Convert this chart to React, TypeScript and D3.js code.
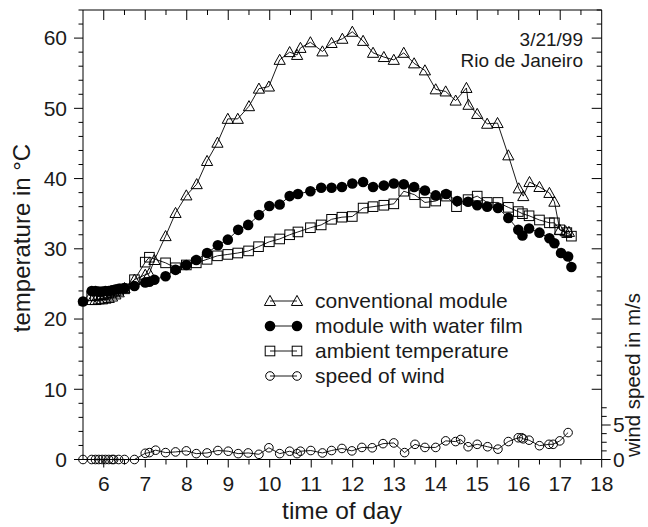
import React from "react";
import * as d3 from "d3";

// conventional module (triangles)
const convTime = [5.71, 5.8, 5.88, 5.96, 6.04, 6.12, 6.2, 6.28, 6.36, 6.5, 6.74, 7.0, 7.1, 7.22, 7.49, 7.73, 7.99, 8.24, 8.49, 8.74, 8.99, 9.23, 9.5, 9.74, 9.98, 10.24, 10.48, 10.66, 10.74, 10.98, 11.27, 11.49, 11.75, 11.99, 12.25, 12.49, 12.75, 12.99, 13.23, 13.48, 13.74, 14.0, 14.24, 14.48, 14.74, 14.79, 15.0, 15.24, 15.49, 15.75, 16.0, 16.11, 16.26, 16.5, 16.74, 16.86, 16.99, 17.13, 17.21];
const convTemp = [22.7, 22.7, 22.8, 22.8, 22.9, 23.0, 23.2, 23.5, 23.8, 24.4, 25.6, 26.3, 26.5, 28.4, 31.8, 35.1, 37.6, 39.2, 42.5, 45.1, 48.5, 48.5, 50.3, 52.8, 53.1, 56.9, 58.0, 57.6, 58.6, 59.4, 58.1, 59.3, 59.9, 60.9, 59.6, 57.9, 57.3, 56.9, 57.9, 56.4, 55.4, 52.7, 52.4, 51.1, 52.9, 50.5, 49.2, 47.8, 47.9, 43.3, 38.6, 37.5, 39.5, 38.8, 37.95, 36.7, 32.7, 32.5, 32.4];

// module with water film (filled circles)
const waterTime = [5.5, 5.71, 5.8, 5.88, 5.96, 6.04, 6.12, 6.2, 6.28, 6.36, 6.5, 6.74, 7.0, 7.1, 7.22, 7.49, 7.73, 7.99, 8.23, 8.49, 8.75, 8.99, 9.24, 9.48, 9.74, 9.99, 10.24, 10.48, 10.68, 10.98, 11.24, 11.49, 11.74, 11.99, 12.25, 12.49, 12.75, 12.99, 13.23, 13.48, 13.74, 14.0, 14.25, 14.52, 14.78, 15.0, 15.24, 15.5, 15.75, 15.99, 16.09, 16.25, 16.5, 16.74, 16.86, 17.02, 17.19, 17.27];
const waterTemp = [22.5, 24.0, 24.0, 23.9, 23.9, 24.0, 24.0, 24.1, 24.2, 24.3, 24.4, 24.7, 25.2, 25.3, 25.6, 26.1, 27.0, 27.7, 28.4, 29.4, 30.5, 31.3, 32.7, 33.4, 34.8, 36.1, 36.3, 37.5, 37.8, 38.2, 38.7, 38.7, 38.8, 39.3, 39.5, 38.8, 39.0, 39.3, 39.2, 38.8, 38.3, 37.6, 37.8, 36.8, 36.7, 36.2, 36.0, 35.8, 34.4, 32.7, 31.9, 32.9, 32.3, 31.5, 30.8, 29.4, 28.9, 27.4];

// ambient temperature (open squares)
const ambTime = [5.71, 5.8, 5.88, 5.96, 6.04, 6.12, 6.2, 6.28, 6.36, 6.5, 6.74, 7.0, 7.1, 7.49, 7.73, 7.99, 8.23, 8.49, 8.74, 8.99, 9.23, 9.49, 9.73, 9.99, 10.24, 10.48, 10.68, 10.98, 11.24, 11.49, 11.74, 11.99, 12.25, 12.49, 12.75, 12.99, 13.23, 13.49, 13.74, 14.0, 14.26, 14.5, 14.78, 15.0, 15.24, 15.5, 15.75, 15.99, 16.09, 16.25, 16.5, 16.74, 16.86, 16.99, 17.16, 17.27];
const ambTemp = [23.3, 23.3, 23.4, 23.5, 23.5, 23.7, 23.8, 24.0, 24.1, 24.3, 25.6, 28.1, 28.8, 28.0, 27.3, 27.7, 28.0, 28.5, 29.0, 29.2, 29.4, 29.7, 30.3, 31.0, 31.4, 32.0, 32.4, 33.0, 33.4, 34.2, 34.5, 34.6, 35.8, 36.0, 36.2, 36.4, 38.2, 37.7, 36.6, 36.8, 37.5, 36.0, 37.0, 37.5, 36.6, 36.6, 35.9, 35.3, 35.0, 34.7, 34.1, 33.7, 33.7, 32.7, 32.3, 31.8];

// speed of wind (open circles, right axis, m/s)
const windTime = [5.5, 5.71, 5.8, 5.88, 5.96, 6.04, 6.12, 6.2, 6.24, 6.36, 6.5, 6.74, 7.0, 7.1, 7.25, 7.49, 7.73, 7.99, 8.23, 8.49, 8.75, 9.0, 9.24, 9.48, 9.74, 9.98, 10.24, 10.48, 10.66, 10.74, 10.99, 11.27, 11.49, 11.74, 11.98, 12.22, 12.47, 12.73, 12.99, 13.25, 13.5, 13.74, 14.0, 14.24, 14.48, 14.6, 14.78, 15.0, 15.25, 15.5, 15.75, 15.99, 16.07, 16.11, 16.25, 16.5, 16.73, 16.83, 16.99, 17.19];
const windSpeed = [0, 0, 0, 0, 0, 0, 0, 0, 0, 0, 0, 0, 0.9, 1.0, 1.35, 1.0, 1.1, 1.25, 0.85, 0.95, 1.3, 1.2, 0.85, 0.95, 0.75, 1.7, 0.85, 1.2, 0.85, 1.2, 1.3, 0.95, 1.3, 1.6, 1.25, 1.75, 1.7, 2.3, 2.4, 1.0, 2.2, 1.75, 1.75, 2.7, 2.6, 2.9, 1.85, 2.2, 1.85, 1.5, 2.6, 3.15, 3.15, 3.0, 2.8, 2.0, 2.2, 2.2, 2.7, 3.9];

const xTicks = [6, 7, 8, 9, 10, 11, 12, 13, 14, 15, 16, 17, 18];
const yTicks = [0, 10, 20, 30, 40, 50, 60];
const windTicks = [0, 5];
const legendLabels = ["conventional module", "module with water film", "ambient temperature", "speed of wind"];

const W = 648;
const H = 527;
const L = 83;
const R = 601.7;
const T = 10;
const B = 459.5;
const FONT = "'Liberation Sans', Arial, Helvetica, sans-serif";
const TXT = "#1a1a1a";

const x = d3.scaleLinear().domain([5.5, 18]).range([L, R]);
const y = d3.scaleLinear().domain([0, 64]).range([B, T]);
const yw = d3.scaleLinear().domain([0, 5]).range([B, 425]);

type MarkerKind = "tri" | "dot" | "sq" | "ring";

function Marker({ kind, cx, cy }: { kind: MarkerKind; cx: number; cy: number }) {
  if (kind === "tri") {
    const s = 5.6;
    const p = `M${cx},${cy - s} L${cx + s},${cy + s * 0.8} L${cx - s},${cy + s * 0.8} Z`;
    return <path d={p} fill="none" stroke="#000" strokeWidth={1} />;
  }
  if (kind === "dot") return <circle cx={cx} cy={cy} r={5.3} fill="#000" />;
  if (kind === "sq")
    return <rect x={cx - 4.8} y={cy - 4.8} width={9.6} height={9.6} fill="none" stroke="#000" strokeWidth={1} />;
  return <circle cx={cx} cy={cy} r={4.3} fill="none" stroke="#000" strokeWidth={1} />;
}

function Series({ xs, ys, scale, kind }: { xs: number[]; ys: number[]; scale: (v: number) => number; kind: MarkerKind }) {
  const pts: [number, number][] = xs.map((t, i) => [x(t), scale(ys[i])]);
  const line = d3.line();
  return (
    <g>
      <path d={line(pts) || ""} fill="none" stroke="#000" strokeWidth={0.9} />
      {pts.map((p, i) => (
        <Marker key={i} kind={kind} cx={p[0]} cy={p[1]} />
      ))}
    </g>
  );
}

export default function App() {
  const halfHours = d3.range(6, 18, 0.5);
  const tempTicks = d3.range(0, 65, 2);
  const windMinor = d3.range(0, 7.6, 1.25);
  const kinds: MarkerKind[] = ["tri", "dot", "sq", "ring"];
  const legY0 = 301;
  const legDy = 25;

  return (
    <svg
      width={W}
      height={H}
      style={{ position: "absolute", left: 0, top: 0, background: "#fff" }}
      fontFamily={FONT}
    >
      <rect x={0} y={0} width={W} height={H} fill="#fff" />
      {/* frame */}
      <line x1={L} x2={R} y1={T} y2={T} stroke="#000" strokeWidth={1} />
      <line x1={L} x2={R} y1={B} y2={B} stroke="#000" strokeWidth={1} />
      <line x1={L} x2={L} y1={T} y2={B} stroke="#000" strokeWidth={1} />
      <line x1={R} x2={R} y1={T} y2={B} stroke="#000" strokeWidth={1} />

      {/* bottom ticks (outside) and top ticks (inside) */}
      {halfHours.map((h) => {
        const major = Number.isInteger(h);
        return (
          <g key={"h" + h}>
            <line x1={x(h)} x2={x(h)} y1={B} y2={B + (major ? 8 : 5)} stroke="#000" />
            <line x1={x(h)} x2={x(h)} y1={T} y2={T + (major ? 10 : 5)} stroke="#000" />
          </g>
        );
      })}
      <line x1={R} x2={R} y1={B} y2={B + 8} stroke="#000" />
      {xTicks.map((t) => (
        <text key={"xl" + t} x={x(t)} y={491} fontSize={21} textAnchor="middle" fill={TXT}>
          {t}
        </text>
      ))}

      {/* left ticks (outside) */}
      {tempTicks.map((v) => {
        const major = v % 10 === 0;
        return <line key={"yl" + v} x1={L - (major ? 9 : 4.5)} x2={L} y1={y(v)} y2={y(v)} stroke="#000" />;
      })}
      {yTicks.map((v) => (
        <text key={"yt" + v} x={67} y={y(v) + 7.3} fontSize={21} textAnchor="end" fill={TXT}>
          {v}
        </text>
      ))}

      {/* right temperature ticks (inside) */}
      {tempTicks
        .filter((v) => v >= 10)
        .map((v) => {
          const major = v % 10 === 0;
          return <line key={"yr" + v} x1={R - (major ? 10 : 5)} x2={R} y1={y(v)} y2={y(v)} stroke="#000" />;
        })}
      {/* right wind ticks (outside) */}
      {windMinor.map((v) => {
        const major = v === 0 || v === 5;
        return <line key={"w" + v} x1={R} x2={R + (major ? 9 : 5)} y1={yw(v)} y2={yw(v)} stroke="#000" />;
      })}
      {windTicks.map((v) => (
        <text key={"wt" + v} x={613} y={yw(v) + 7.3} fontSize={21} textAnchor="start" fill={TXT}>
          {v}
        </text>
      ))}

      {/* axis titles */}
      <text x={342} y={519} fontSize={24.5} textAnchor="middle" fill={TXT}>
        time of day
      </text>
      <text transform="translate(30,238) rotate(-90)" fontSize={24} textAnchor="middle" fill={TXT}>
        temperature in °C
      </text>
      <text transform="translate(640,375) rotate(-90)" fontSize={20.5} textAnchor="middle" fill={TXT}>
        wind speed in m/s
      </text>

      {/* annotation */}
      <text x={583} y={45.5} fontSize={19} textAnchor="end" fill={TXT}>
        3/21/99
      </text>
      <text x={583} y={67} fontSize={19} textAnchor="end" fill={TXT}>
        Rio de Janeiro
      </text>

      {/* data */}
      <Series xs={windTime} ys={windSpeed} scale={yw} kind="ring" />
      <Series xs={ambTime} ys={ambTemp} scale={y} kind="sq" />
      <Series xs={convTime} ys={convTemp} scale={y} kind="tri" />
      <Series xs={waterTime} ys={waterTemp} scale={y} kind="dot" />

      {/* legend */}
      {legendLabels.map((lab, i) => {
        const ly = legY0 + i * legDy;
        return (
          <g key={lab}>
            <line x1={270} x2={297} y1={ly} y2={ly} stroke="#000" strokeWidth={0.9} />
            <Marker kind={kinds[i]} cx={270} cy={ly} />
            <Marker kind={kinds[i]} cx={297} cy={ly} />
            <text x={315} y={ly + 7} fontSize={21} fill={TXT}>
              {lab}
            </text>
          </g>
        );
      })}
    </svg>
  );
}
